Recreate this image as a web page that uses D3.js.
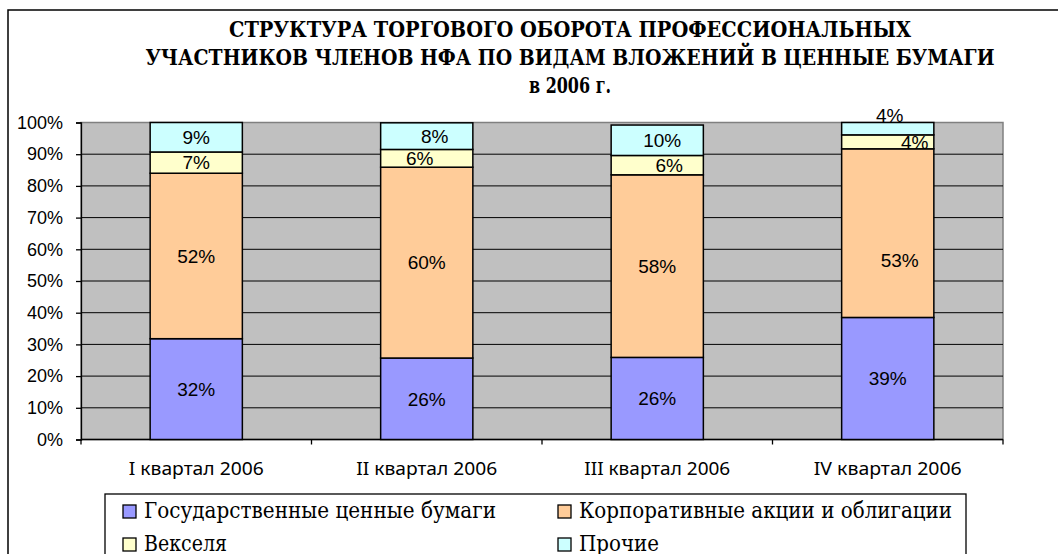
<!DOCTYPE html>
<html lang="ru">
    <head>
        <meta charset="utf-8">
        <title>Структура торгового оборота</title>
        <script type="text/javascript" src="https://d3js.org/d3.v7.min.js"></script>
        <style>
          body { margin: 0; background: #fff; }
          svg { display: block; }
        </style>
    </head>
    <body>
        <script type="text/javascript">
            const categories = ["I квартал 2006", "II квартал 2006", "III квартал 2006", "IV квартал 2006"]
            const seriesNames = ["Государственные ценные бумаги", "Корпоративные акции и облигации", "Векселя", "Прочие"]
            const gov = [31.8, 25.7, 25.9, 38.5]
            const corp = [52.2, 60.2, 57.6, 53.2]
            const bills = [6.7, 5.6, 6.1, 4.4]
            const other = [9.3, 8.4, 9.6, 3.9]
            const yTicks = [0, 10, 20, 30, 40, 50, 60, 70, 80, 90, 100]
            const titleLines = ["СТРУКТУРА ТОРГОВОГО ОБОРОТА ПРОФЕССИОНАЛЬНЫХ",
                                "УЧАСТНИКОВ ЧЛЕНОВ НФА ПО ВИДАМ ВЛОЖЕНИЙ В ЦЕННЫЕ БУМАГИ",
                                "в 2006 г."]

            const colors = ["#9999ff", "#ffcc99", "#ffffcc", "#ccffff"]
            const keys = ["gov", "corp", "bills", "other"]

            const w = 1058
            const h = 554
            const plot = { left: 81, right: 1003, top: 122.5, bottom: 439.5 }
            const serif = "'DejaVu Serif', serif"
            const sans = "'Liberation Sans', Arial, 'Noto Sans', sans-serif"
            const cyrSans = "'Noto Sans', 'DejaVu Sans', sans-serif"

            // widths of the texts in the original (its fonts are narrower than what is installed)
            const titleWidths = [682, 849, 82]
            const catWidths = [135, 141, 146, 148]
            const legendWidths = [352, 373, 83, 80]

            const rows = categories.map((c, i) => ({ cat: c, gov: gov[i], corp: corp[i], bills: bills[i], other: other[i] }))
            const stacked = d3.stack().keys(keys)(rows)

            const svg = d3.select("body")
                          .append("svg")
                          .attr("width", w)
                          .attr("height", h)

            // outer chart frame (runs off the right and bottom edges)
            svg.append("rect")
               .attr("x", 8).attr("y", 10)
               .attr("width", 1100).attr("height", 600)
               .attr("fill", "#fff")
               .attr("stroke", "#000")
               .attr("stroke-width", 1.5)

            svg.selectAll("text.title")
               .data(titleLines)
               .enter()
               .append("text")
               .attr("class", "title")
               .attr("x", 570)
               .attr("y", (d, i) => 37 + i * 28)
               .attr("text-anchor", "middle")
               .attr("font-family", serif)
               .attr("font-weight", "bold")
               .attr("font-size", 23)
               .attr("textLength", (d, i) => titleWidths[i])
               .attr("lengthAdjust", "spacingAndGlyphs")
               .text(d => d)

            const x = d3.scaleBand()
                        .domain(categories)
                        .range([plot.left, plot.right])
                        .paddingInner(0.6)
                        .paddingOuter(0.3)

            const xStep = x.step()
            const y = d3.scaleLinear().domain([0, 100]).range([plot.bottom, plot.top])

            svg.append("rect")
               .attr("x", plot.left).attr("y", plot.top)
               .attr("width", plot.right - plot.left)
               .attr("height", plot.bottom - plot.top)
               .attr("fill", "#c0c0c0")
               .attr("stroke", "#808080")
               .attr("stroke-width", 1.5)

            svg.selectAll("line.grid")
               .data(yTicks.filter(t => t > 0 && t < 100))
               .enter()
               .append("line")
               .attr("class", "grid")
               .attr("x1", plot.left).attr("x2", plot.right)
               .attr("y1", d => y(d)).attr("y2", d => y(d))
               .attr("stroke", "#000")
               .attr("stroke-width", 1)

            // y axis
            const yAxis = d3.axisLeft(y)
                            .tickValues(yTicks)
                            .tickSize(5)
                            .tickPadding(13)
                            .tickFormat(d => d + "%")
            const gy = svg.append("g")
                          .attr("transform", `translate(${plot.left},0)`)
                          .call(yAxis)
            gy.selectAll("text")
              .attr("font-family", sans)
              .attr("font-size", 18)
              .attr("fill", "#000")
            gy.selectAll("line, path").attr("stroke", "#000").attr("stroke-width", 1.3)

            // x axis: ticks sit between categories
            const boundaries = d3.range(categories.length + 1).map(i => plot.left + i * xStep)
            svg.append("line")
               .attr("x1", plot.left).attr("x2", plot.right)
               .attr("y1", plot.bottom).attr("y2", plot.bottom)
               .attr("stroke", "#000").attr("stroke-width", 1.3)
            svg.selectAll("line.xtick")
               .data(boundaries)
               .enter()
               .append("line")
               .attr("class", "xtick")
               .attr("x1", d => d).attr("x2", d => d)
               .attr("y1", plot.bottom).attr("y2", plot.bottom + 5)
               .attr("stroke", "#000").attr("stroke-width", 1.3)
            svg.selectAll("text.cat")
               .data(categories)
               .enter()
               .append("text")
               .attr("class", "cat")
               .attr("x", d => x(d) + x.bandwidth() / 2)
               .attr("y", 475)
               .attr("text-anchor", "middle")
               .attr("font-family", cyrSans)
               .attr("font-size", 18)
               .attr("textLength", (d, i) => catWidths[i])
               .attr("lengthAdjust", "spacingAndGlyphs")
               .text(d => d)

            // bars
            const layers = svg.selectAll("g.layer")
                              .data(stacked)
                              .enter()
                              .append("g")
                              .attr("class", "layer")
                              .attr("fill", (d, i) => colors[i])
            layers.selectAll("rect")
                  .data(d => d)
                  .enter()
                  .append("rect")
                  .attr("x", d => x(d.data.cat))
                  .attr("y", d => y(d[1]))
                  .attr("width", x.bandwidth())
                  .attr("height", d => y(d[0]) - y(d[1]))
                  .attr("stroke", "#000")
                  .attr("stroke-width", 1.5)

            // labels were dragged by hand in the original, so a few are nudged
            const nudge = {
                "1-2": [-7, 0], "1-3": [8, 0],
                "2-2": [12, 0], "2-3": [5, 0],
                "3-1": [12, 27], "3-2": [27, 0], "3-3": [2, -14]
            }
            stacked.forEach((layer, si) => {
                svg.selectAll("text.lbl" + si)
                   .data(layer)
                   .enter()
                   .append("text")
                   .attr("class", "lbl" + si)
                   .attr("x", (d, ci) => x(d.data.cat) + x.bandwidth() / 2 + (nudge[ci + "-" + si] || [0, 0])[0])
                   .attr("y", (d, ci) => (y(d[0]) + y(d[1])) / 2 + (nudge[ci + "-" + si] || [0, 0])[1])
                   .attr("dy", "0.36em")
                   .attr("text-anchor", "middle")
                   .attr("font-family", sans)
                   .attr("font-size", 19)
                   .text(d => Math.round(d[1] - d[0]) + "%")
            })

            // legend
            const legend = svg.append("g")
            legend.append("rect")
                  .attr("x", 105).attr("y", 494)
                  .attr("width", 861).attr("height", 100)
                  .attr("fill", "#fff")
                  .attr("stroke", "#000")
                  .attr("stroke-width", 1.3)
            const item = legend.selectAll("g.item")
                               .data(seriesNames)
                               .enter()
                               .append("g")
                               .attr("class", "item")
                               .attr("transform", (d, i) => `translate(${i % 2 ? 558 : 123},${i < 2 ? 505 : 538})`)
            item.append("rect")
                .attr("width", 13).attr("height", 13)
                .attr("fill", (d, i) => colors[i])
                .attr("stroke", "#000")
                .attr("stroke-width", 1.3)
            item.append("text")
                .attr("x", 21)
                .attr("y", 13)
                .attr("font-family", serif)
                .attr("font-size", 22)
                .attr("textLength", (d, i) => legendWidths[i])
                .attr("lengthAdjust", "spacingAndGlyphs")
                .text(d => d)
        </script>
    </body>
</html>
